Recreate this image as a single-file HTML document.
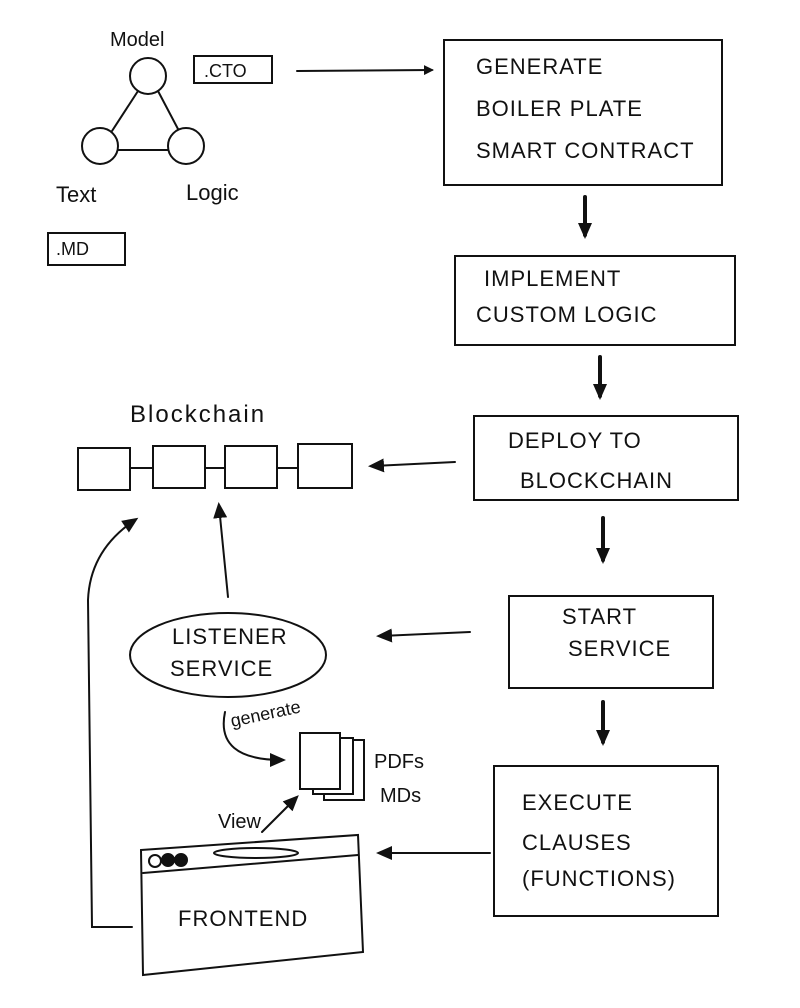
<!DOCTYPE html>
<html><head><meta charset="utf-8">
<style>
html,body{margin:0;padding:0;background:#fff;}
svg{display:block}
text{font-family:"Liberation Sans",sans-serif;fill:#111;}
.c{font-size:22px;letter-spacing:1px}
</style></head><body>
<svg width="800" height="1008" viewBox="0 0 800 1008" xmlns="http://www.w3.org/2000/svg">
<defs>
<marker id="ah" markerWidth="10" markerHeight="10" refX="8" refY="5" orient="auto" markerUnits="userSpaceOnUse" viewBox="0 0 10 10">
<path d="M0,0 L10,5 L0,10 z" fill="#111"/></marker>
<marker id="ah2" markerWidth="16" markerHeight="16" refX="12" refY="8" orient="auto" markerUnits="userSpaceOnUse" viewBox="0 0 16 16">
<path d="M0,1 L16,8 L0,15 z" fill="#111"/></marker>
</defs>
<g fill="none" stroke="#111" stroke-width="2" stroke-linecap="round">
<!-- triangle -->
<circle cx="148" cy="76" r="18"/>
<circle cx="100" cy="146" r="18"/>
<circle cx="186" cy="146" r="18"/>
<line x1="138" y1="91" x2="112" y2="131"/>
<line x1="158" y1="91" x2="178" y2="129"/>
<line x1="118" y1="150" x2="168" y2="150"/>
<!-- .cto -->
<rect x="194" y="56" width="78" height="27"/>
<line x1="297" y1="71" x2="432" y2="70" marker-end="url(#ah)"/>
<!-- .md -->
<rect x="48" y="233" width="77" height="32"/>
<!-- box1 -->
<rect x="444" y="40" width="278" height="145"/>
<!-- box2 -->
<rect x="455" y="256" width="280" height="89"/>
<!-- box3 -->
<rect x="474" y="416" width="264" height="84"/>
<!-- box4 -->
<rect x="509" y="596" width="204" height="92"/>
<!-- box5 -->
<rect x="494" y="766" width="224" height="150"/>
<!-- down arrows -->
<g stroke-width="4">
<line x1="585" y1="197" x2="585" y2="235" marker-end="url(#ah2)"/>
<line x1="600" y1="357" x2="600" y2="396" marker-end="url(#ah2)"/>
<line x1="603" y1="518" x2="603" y2="560" marker-end="url(#ah2)"/>
<line x1="603" y1="702" x2="603" y2="742" marker-end="url(#ah2)"/>
</g>
<!-- left arrows -->
<line x1="455" y1="462" x2="372" y2="466" marker-end="url(#ah2)"/>
<line x1="470" y1="632" x2="380" y2="636" marker-end="url(#ah2)"/>
<line x1="490" y1="853" x2="380" y2="853" marker-end="url(#ah2)"/>
<!-- blockchain -->
<rect x="78" y="448" width="52" height="42"/>
<rect x="153" y="446" width="52" height="42"/>
<rect x="225" y="446" width="52" height="42"/>
<rect x="298" y="444" width="54" height="44"/>
<line x1="130" y1="468" x2="153" y2="468"/>
<line x1="205" y1="468" x2="225" y2="468"/>
<line x1="277" y1="468" x2="298" y2="468"/>
<!-- listener -->
<ellipse cx="228" cy="655" rx="98" ry="42"/>
<line x1="228" y1="597" x2="219" y2="506" marker-end="url(#ah2)"/>
<!-- frontend -->
<path d="M141,850 L358,835 L363,952 L143,975 Z"/>
<line x1="143" y1="873" x2="358" y2="855"/>
<ellipse cx="256" cy="853" rx="42" ry="5"/>
<circle cx="155" cy="861" r="6"/>
<circle cx="168" cy="860" r="6" fill="#111"/>
<circle cx="181" cy="860" r="6" fill="#111"/>
<path d="M132,927 L92,927 L88,600 Q90,550 135,520" marker-end="url(#ah2)"/>
<!-- docs -->
<rect x="324" y="740" width="40" height="60"/>
<rect x="313" y="738" width="40" height="56" fill="#fff"/>
<rect x="300" y="733" width="40" height="56" fill="#fff"/>
<path d="M225,712 Q215,760 282,760" marker-end="url(#ah2)"/>
<line x1="262" y1="832" x2="296" y2="798" marker-end="url(#ah2)"/>
</g>
<text x="110" y="46" font-size="20">Model</text>
<text x="56" y="202" font-size="22">Text</text>
<text x="186" y="200" font-size="22">Logic</text>
<text x="204" y="77" font-size="18">.CTO</text>
<text x="56" y="255" font-size="18">.MD</text>
<text class="c" x="476" y="74">GENERATE</text>
<text class="c" x="476" y="116">BOILER PLATE</text>
<text class="c" x="476" y="158" font-size="20">SMART CONTRACT</text>
<text class="c" x="484" y="286">IMPLEMENT</text>
<text class="c" x="476" y="322" font-size="20">CUSTOM LOGIC</text>
<text class="c" x="508" y="448">DEPLOY TO</text>
<text class="c" x="520" y="488" font-size="20">BLOCKCHAIN</text>
<text class="c" x="562" y="624">START</text>
<text class="c" x="568" y="656">SERVICE</text>
<text class="c" x="522" y="810">EXECUTE</text>
<text class="c" x="522" y="850">CLAUSES</text>
<text class="c" x="522" y="886">(FUNCTIONS)</text>
<text x="130" y="422" font-size="24" letter-spacing="2">Blockchain</text>
<text class="c" x="172" y="644" font-size="19">LISTENER</text>
<text class="c" x="170" y="676" font-size="19">SERVICE</text>
<text x="232" y="727" font-size="18" transform="rotate(-12 232 727)">generate</text>
<text x="374" y="768" font-size="20">PDFs</text>
<text x="380" y="802" font-size="20">MDs</text>
<text x="218" y="828" font-size="20">View</text>
<text class="c" x="178" y="926" font-size="20">FRONTEND</text>
</svg>
</body></html>
